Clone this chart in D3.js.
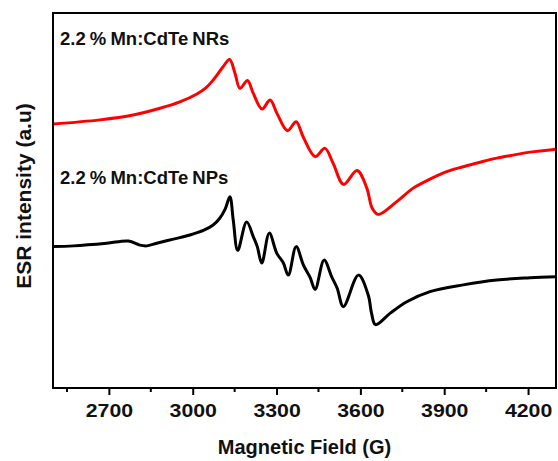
<!DOCTYPE html>
<html>
<head>
<meta charset="utf-8">
<script src="https://cdn.jsdelivr.net/npm/d3@7"></script>
<style>
  body { margin: 0; background: #fff; }
  text { font-family: "Liberation Sans", Arial, sans-serif; font-weight: bold; fill: #111; }
</style>
</head>
<body>
<div id="d3"></div>
<script>
// field values (G) and ESR intensity (a.u.) for both samples
const nr_field = [2500, 2668, 2787, 2883, 2954, 3015, 3048, 3073, 3108, 3132, 3151, 3169, 3196, 3216, 3248, 3277,
  3301, 3339, 3370, 3395, 3438, 3473, 3502, 3540, 3588, 3623, 3642, 3664, 3730, 3789, 3849, 3909, 3968,
  4028, 4088, 4147, 4207, 4300];
const nr_intensity = [7.04, 7.15, 7.28, 7.46, 7.63, 7.84, 8.01, 8.21, 8.56, 8.76, 8.40, 7.99, 8.20, 7.87, 7.44, 7.68,
  7.33, 6.86, 7.10, 6.70, 6.17, 6.39, 6.00, 5.43, 5.80, 5.33, 4.80, 4.63, 4.97, 5.33, 5.57, 5.77, 5.90,
  6.02, 6.13, 6.21, 6.29, 6.37];

const np_field = [2500, 2573, 2692, 2770, 2811, 2835, 2871, 2931, 2990, 3040, 3072, 3096, 3116, 3133, 3145, 3161,
  3193, 3217, 3231, 3247, 3274, 3301, 3324, 3342, 3370, 3396, 3420, 3438, 3470, 3497, 3517, 3539, 3593,
  3628, 3640, 3654, 3706, 3766, 3849, 3968, 4088, 4207, 4300];
const np_intensity = [3.77, 3.79, 3.86, 3.92, 3.81, 3.79, 3.86, 3.97, 4.08, 4.21, 4.34, 4.52, 4.77, 5.10, 4.48, 3.67,
  4.43, 4.03, 3.77, 3.33, 4.13, 3.59, 3.34, 3.01, 3.77, 3.28, 2.95, 2.63, 3.41, 2.97, 2.66, 2.17, 3.01,
  2.48, 1.99, 1.69, 1.99, 2.30, 2.57, 2.75, 2.88, 2.94, 2.97];

const major_ticks = [2700, 3000, 3300, 3600, 3900, 4200];
const minor_ticks = [2550, 2850, 3150, 3450, 3750, 4050];
const labels = ["2.2 % Mn:CdTe NRs", "2.2 % Mn:CdTe NPs"];

// setup canvas
const canvas_width = 558;
const canvas_height = 461;
const plot_left = 53, plot_right = 556, plot_top = 13, plot_bottom = 388;

const canvas = d3.select("#d3").append("svg")
  .attr("width", canvas_width)
  .attr("height", canvas_height);

const x = d3.scaleLinear().domain([2500, 4300]).range([plot_left, plot_right]);
const y = d3.scaleLinear().domain([0, 10]).range([plot_bottom, plot_top]);

canvas.append("clipPath").attr("id", "plot")
  .append("rect")
    .attr("x", plot_left).attr("y", plot_top)
    .attr("width", plot_right - plot_left).attr("height", plot_bottom - plot_top);

const line = d3.line()
  .x(function(d) { return x(d[0]); })
  .y(function(d) { return y(d[1]); })
  .curve(d3.curveCatmullRom.alpha(0.5));

// draw spectra
canvas.append("path")
  .datum(d3.zip(nr_field, nr_intensity))
  .attr("clip-path", "url(#plot)")
  .attr("fill", "none")
  .attr("stroke", "#ff0000")
  .attr("stroke-width", 3)
  .attr("d", line);

canvas.append("path")
  .datum(d3.zip(np_field, np_intensity))
  .attr("clip-path", "url(#plot)")
  .attr("fill", "none")
  .attr("stroke", "#000")
  .attr("stroke-width", 3)
  .attr("d", line);

// frame
canvas.append("rect")
  .attr("x", plot_left).attr("y", plot_top)
  .attr("width", plot_right - plot_left).attr("height", plot_bottom - plot_top)
  .attr("fill", "none")
  .attr("stroke", "#000")
  .attr("stroke-width", 2);

// bottom axis, major + minor ticks
const xAxis = canvas.append("g")
  .attr("transform", "translate(0," + plot_bottom + ")")
  .call(d3.axisBottom(x).tickValues(major_ticks).tickSize(7).tickFormat(d3.format("d")));
xAxis.select(".domain").remove();
xAxis.selectAll(".tick line").attr("stroke", "#000").attr("stroke-width", 2);
xAxis.selectAll(".tick text")
  .attr("y", 16)
  .attr("transform", "scale(1.12,1)")
  .style("font-size", "19px")
  .style("font-family", "'Liberation Sans', Arial, sans-serif")
  .style("font-weight", "bold")
  .attr("fill", "#111");

canvas.append("g")
  .selectAll("line")
  .data(minor_ticks)
  .enter().append("line")
    .attr("x1", function(d) { return x(d); })
    .attr("x2", function(d) { return x(d); })
    .attr("y1", plot_bottom)
    .attr("y2", plot_bottom + 4)
    .attr("stroke", "#000")
    .attr("stroke-width", 2);

// axis titles
canvas.append("text")
  .attr("x", (plot_left + plot_right) / 2)
  .attr("y", 454)
  .attr("text-anchor", "middle")
  .style("font-size", "20px")
  .text("Magnetic Field (G)");

canvas.append("text")
  .attr("transform", "translate(31,196) rotate(-90)")
  .attr("text-anchor", "middle")
  .style("font-size", "21px")
  .text("ESR intensity (a.u)");

// sample labels
canvas.selectAll(".label")
  .data(labels)
  .enter().append("text")
    .attr("class", "label")
    .attr("x", 60)
    .attr("y", function(d, i) { return i == 0 ? 45 : 184; })
    .style("font-size", "18.5px")
    .style("word-spacing", "-1px")
    .text(function(d) { return d; });
</script>
</body>
</html>
